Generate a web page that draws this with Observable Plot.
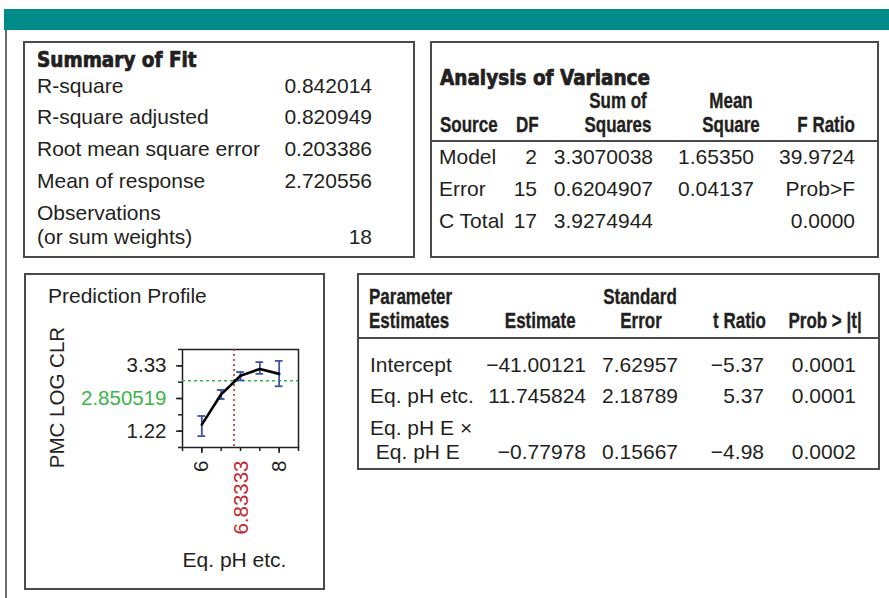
<!DOCTYPE html>
<html>
<head>
<meta charset="utf-8">
<script src="https://cdn.jsdelivr.net/npm/d3@7"></script>
<script src="https://cdn.jsdelivr.net/npm/@observablehq/plot@0.6"></script>
<style>
  html, body { margin: 0; padding: 0; background: #fff; }
  #page { position: relative; width: 889px; height: 598px; overflow: hidden; background: #fff; }
  .box { position: absolute; box-sizing: border-box; border: 2px solid #4a4a4a; }
  .t { position: absolute; white-space: pre; color: #231f20; }
</style>
</head>
<body>
<div id="page"></div>
<script>
// ---------------- data ----------------
const summaryTitle = "Summary of Fit";
const summaryLabels = ["R-square", "R-square adjusted", "Root mean square error", "Mean of response", "Observations", "(or sum weights)"];
const summaryValues = ["0.842014", "0.820949", "0.203386", "2.720556", "", "18"];

const anovaTitle = "Analysis of Variance";
const anovaSources = ["Model", "Error", "C Total"];
const anovaDF = ["2", "15", "17"];
const anovaSS = ["3.3070038", "0.6204907", "3.9274944"];
const anovaMS = ["1.65350", "0.04137", ""];
const anovaF = ["39.9724", "Prob>F", "0.0000"];

const paramTerms = ["Intercept", "Eq. pH etc.", "Eq. pH E \u00d7", " Eq. pH E"];
const paramEstimates = ["\u221241.00121", "11.745824", "", "\u22120.77978"];
const paramStdErr = ["7.62957", "2.18789", "", "0.15667"];
const paramT = ["\u22125.37", "5.37", "", "\u22124.98"];
const paramProb = ["0.0001", "0.0001", "", "0.0002"];

// prediction profile
const phLevels = [6, 6.5, 7, 7.5, 8];
const predicted = [1.43, 2.41, 3.01, 3.23, 3.07];
const upperCI = [1.71, 2.55, 3.13, 3.45, 3.49];
const lowerCI = [1.06, 2.26, 2.86, 3.07, 2.67];
const currentX = 6.83333;
const currentY = 2.850519;
const yTicksAll = [0.6925, 1.22, 1.7475, 2.275, 2.8025, 3.33, 3.8575];
const yTicksLong = [1.22, 2.275, 3.33];
const yTickLabels = [1.22, 3.33];
const xTicksAll = [5.5, 6, 6.5, 7, 7.5, 8, 8.5];
const xTickLabels = [6, 8];
const yLabel = "PMC LOG CLR";
const xLabel = "Eq. pH etc.";
const profileTitle = "Prediction Profile";

// ---------------- layout helpers ----------------
const W = 889;
const page = document.getElementById("page");
const BODY = '"Liberation Sans", Arial, Helvetica, sans-serif';
const HEAVY = '"DejaVu Sans Condensed", "DejaVu Sans", sans-serif';
const INK = "#231f20";
const GREEN = "#3bb54a";
const RED = "#c1272d";
const BLUE = "#3a52a8";
const FS = 21;

function div(css) { const d = document.createElement("div"); d.style.cssText = css; page.appendChild(d); return d; }
function box(x0, y0, x1, y1) { const d = div(`left:${x0}px;top:${y0}px;width:${x1 - x0}px;height:${y1 - y0}px;`); d.className = "box"; return d; }
function hline(x0, x1, y) { div(`position:absolute;left:${x0}px;top:${y - 1}px;width:${x1 - x0}px;height:2px;background:#4a4a4a;`); }
function txt(str, x, y, align = "left", o = {}) {
  const size = o.size || FS;
  const d = div("");
  d.className = "t";
  d.textContent = str;
  d.style.top = (y - size * 0.575) + "px";
  d.style.lineHeight = size + "px";
  d.style.font = `${o.weight || "normal"} ${size}px ${o.font || BODY}`;
  if (o.color) d.style.color = o.color;
  if (o.stroke) d.style.webkitTextStroke = o.stroke;
  const sx = o.scaleX ? ` scaleX(${o.scaleX})` : "";
  if (align === "left") { d.style.left = x + "px"; d.style.transformOrigin = "left center"; d.style.transform = sx; }
  else if (align === "right") { d.style.right = (W - x) + "px"; d.style.transformOrigin = "right center"; d.style.transform = sx; }
  else { d.style.left = x + "px"; d.style.transformOrigin = "center center"; d.style.transform = "translateX(-50%)" + sx; }
  return d;
}
const hdr = {weight: "bold", size: 21.5, scaleX: 0.79, stroke: "0.35px #231f20"};
const ttl = {font: HEAVY, weight: "bold", size: 20.5, stroke: "0.7px #231f20"};

// top banner and outer rule
div("position:absolute;left:4px;top:9px;width:885px;height:21px;background:#008b8b;");
div("position:absolute;left:5px;top:30px;width:1.5px;height:568px;background:#6a6a6a;");

// ---------------- Summary of Fit ----------------
box(23, 41, 415, 258);
txt(summaryTitle, 37, 60, "left", ttl);
const sumRowsY = [86, 117, 149, 181, 213, 237];
summaryLabels.forEach((s, i) => {
  txt(s, 37, sumRowsY[i]);
  if (summaryValues[i]) txt(summaryValues[i], 372, sumRowsY[i], "right");
});

// ---------------- Analysis of Variance ----------------
box(430, 41, 879, 258);
txt(anovaTitle, 440, 78, "left", ttl);
txt("Sum of", 618, 101, "center", hdr);
txt("Squares", 618, 125, "center", hdr);
txt("Mean", 731, 101, "center", hdr);
txt("Square", 731, 125, "center", hdr);
txt("Source", 440, 125, "left", hdr);
txt("DF", 516, 125, "left", hdr);
txt("F Ratio", 855, 125, "right", hdr);
hline(430, 879, 140.5);
const anovaRowsY = [157, 189, 221];
anovaSources.forEach((s, i) => {
  const y = anovaRowsY[i];
  txt(s, 439, y);
  txt(anovaDF[i], 537, y, "right");
  txt(anovaSS[i], 653, y, "right");
  if (anovaMS[i]) txt(anovaMS[i], 754, y, "right");
  txt(anovaF[i], 855, y, "right");
});

// ---------------- Parameter Estimates ----------------
box(357, 273, 880, 470);
txt("Parameter", 369, 297, "left", hdr);
txt("Estimates", 369, 321, "left", hdr);
txt("Estimate", 576, 321, "right", hdr);
txt("Standard", 640, 297, "center", hdr);
txt("Error", 641, 321, "center", hdr);
txt("t Ratio", 766, 321, "right", hdr);
txt("Prob > |t|", 862, 321, "right", hdr);
hline(357, 880, 338);
const paramRowsY = [365, 396, 428, 452];
paramTerms.forEach((s, i) => {
  const y = paramRowsY[i];
  txt(s, 370, y);
  if (paramEstimates[i]) txt(paramEstimates[i], 586, y, "right");
  if (paramStdErr[i]) txt(paramStdErr[i], 678, y, "right");
  if (paramT[i]) txt(paramT[i], 764, y, "right");
  if (paramProb[i]) txt(paramProb[i], 856, y, "right");
});

// ---------------- Prediction Profile ----------------
box(24, 273, 325, 590);
txt(profileTitle, 48, 296);

const profile = phLevels.map((ph, i) => ({ph, pred: predicted[i], lo: lowerCI[i], hi: upperCI[i]}));
const capHalf = 0.1;
const chart = Plot.plot({
  width: 301,
  height: 317,
  marginLeft: 158,
  marginRight: 27,
  marginTop: 76,
  marginBottom: 143,
  style: {fontFamily: BODY, fontSize: "20px", color: INK, background: "transparent", overflow: "visible"},
  x: {domain: [xTicksAll[0], xTicksAll[xTicksAll.length - 1]], label: null},
  y: {domain: [yTicksAll[0], yTicksAll[yTicksAll.length - 1]], label: null},
  marks: [
    Plot.frame({stroke: INK, strokeWidth: 1.5}),
    Plot.axisY({ticks: yTicksAll, tickSize: 4, tickFormat: () => "", label: null, strokeWidth: 1.5}),
    Plot.axisY({ticks: yTicksLong, tickSize: 6, tickFormat: () => "", label: null, strokeWidth: 1.5}),
    Plot.axisY({ticks: yTickLabels, tickSize: 0, tickPadding: 16, tickFormat: d => d.toFixed(2), label: null, fontSize: 20.5, fill: INK}),
    Plot.axisX({ticks: xTicksAll, tickSize: 4, tickFormat: () => "", label: null, strokeWidth: 1.5}),
    Plot.axisX({ticks: xTickLabels, tickSize: 6, tickPadding: 7, tickRotate: -90, tickFormat: d => String(d), label: null, fontSize: 20.5, fill: INK, strokeWidth: 1.5}),
    Plot.ruleY([currentY], {stroke: GREEN, strokeWidth: 1.6, strokeDasharray: "3,3"}),
    Plot.ruleX([currentX], {stroke: RED, strokeWidth: 1.6, strokeDasharray: "2,3"}),
    Plot.ruleX(profile, {x: "ph", y1: "lo", y2: "hi", stroke: BLUE, strokeWidth: 1.8}),
    Plot.ruleY(profile, {y: "hi", x1: d => d.ph - capHalf, x2: d => d.ph + capHalf, stroke: BLUE, strokeWidth: 1.8}),
    Plot.ruleY(profile, {y: "lo", x1: d => d.ph - capHalf, x2: d => d.ph + capHalf, stroke: BLUE, strokeWidth: 1.8}),
    Plot.line(profile, {x: "ph", y: "pred", stroke: "#000", strokeWidth: 2.6}),
    Plot.text([currentY], {text: d => String(d), frameAnchor: "left", textAnchor: "end", lineAnchor: "middle", dx: -16, fill: GREEN, fontSize: 20.5}),
    Plot.text([currentX], {text: d => String(d), frameAnchor: "bottom", rotate: -90, textAnchor: "end", lineAnchor: "middle", dy: 13, dx: 1, fill: RED, fontSize: 20.5}),
    Plot.text([yLabel], {text: d => d, frameAnchor: "left", rotate: -90, textAnchor: "middle", lineAnchor: "middle", dx: -125, dy: -1, fill: INK, fontSize: 20.5}),
    Plot.text([xLabel], {text: d => d, frameAnchor: "bottom", textAnchor: "middle", lineAnchor: "middle", dy: 113, dx: -6, fill: INK, fontSize: 21})
  ]
});
chart.style.position = "absolute";
chart.style.left = "24px";
chart.style.top = "273px";
page.appendChild(chart);
</script>
</body>
</html>
